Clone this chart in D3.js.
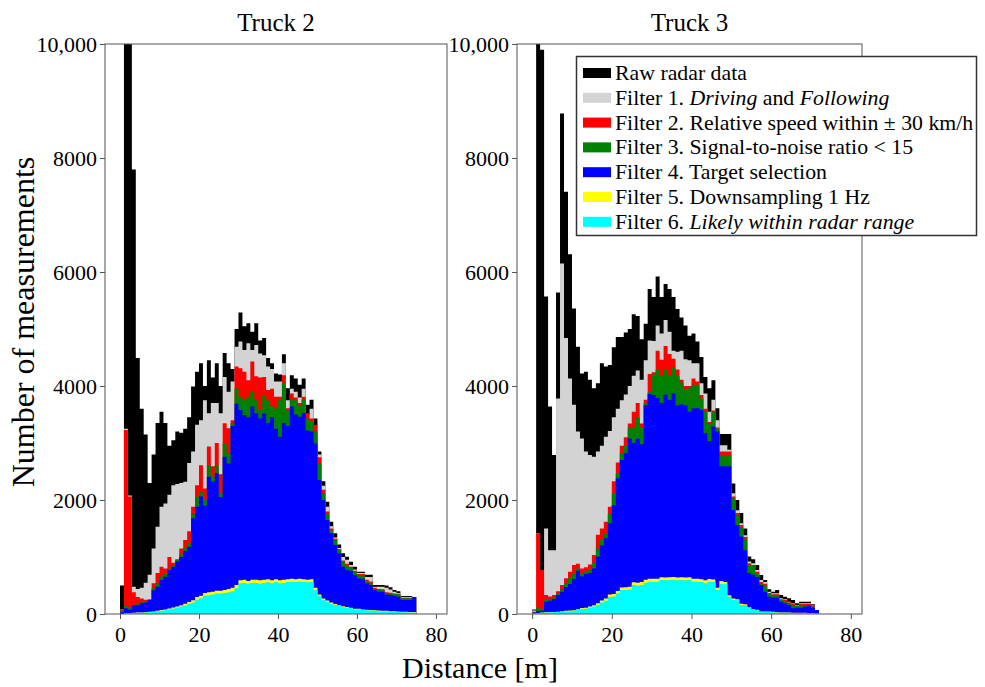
<!DOCTYPE html>
<html>
<head>
<meta charset="utf-8">
<script src="https://cdn.jsdelivr.net/npm/d3@7"></script>
<style>
  body { margin: 0; background: #fff; }
  svg { display: block; font-family: "Liberation Serif", "Times New Roman", serif; }
</style>
</head>
<body>
<div id="chart"></div>
<script>
// 1 m distance bins, counts per bin
const truck2Raw = [500,12000,12000,7800,4490,3600,3150,2300,2800,3350, 3550,3350,2950,3050,3200,3180,3250,3450,3990,4250, 4400,4000,4450,4150,4400,4000,4580,4400,4300,5000, 5290,5050,5100,4950,5100,4800,4840,4490,4400,4220, 4200,4555,3960,4190,4130,4020,4130,3670,3760,3430, 2850,2330,1970,1620,1415,1220,1065,1005,918,830, 740,740,690,690,509,509,509,500,470,420, 400,316,316,316,300];
const truck2Filter1 = [80,3250,2080,480,440,460,550,690,1150,1530, 1880,1940,2090,2260,2280,2300,2320,2650,2850,3320, 3400,3750,3520,3700,3700,3520,4160,3900,4080,4690, 4780,4630,4750,4630,4720,4570,4540,4340,4300,4080, 4080,4400,3750,3950,3900,3800,3950,3500,3600,3300, 2800,2250,1880,1540,1340,1160,1000,950,860,780, 720,720,650,650,480,480,480,460,430,390, 370,300,300,300,300];
const truck2Filter2 = [80,3230,2060,380,300,270,250,260,540,720, 830,800,1000,900,960,1150,1300,1450,1880,2260, 2610,2200,2940,2590,3000,2450,3345,3260,3400,4340, 4310,4250,4100,4430,4170,4150,4160,3930,3950,3810, 3810,4190,3610,3870,3800,3700,3810,3520,3430,3320, 2750,2180,1800,1500,1320,1140,940,880,830,760, 700,700,600,570,460,440,435,380,375,360, 355,285,285,285,300];
const truck2Filter3 = [60,150,120,160,170,200,210,230,450,540, 660,700,800,860,950,1050,1160,1250,1750,2060, 2150,2000,2610,2410,2610,2120,2990,2820,3345,3960, 3810,3750,3810,3900,3750,3580,3840,3750,3650,3610, 3750,4050,3580,3770,3750,3660,3760,3430,3370,3200, 2640,2120,1760,1470,1300,1130,920,860,820,740, 684,684,570,540,440,420,420,370,364,350, 345,275,275,275,300];
const truck2Filter4 = [30,100,80,155,155,187,200,245,415,480, 596,655,772,830,920,1000,1100,1180,1680,1880, 2060,1900,2410,2320,2470,2050,2760,2640,3300,3690, 3580,3490,3450,3640,3520,3430,3520,3350,3450,3250, 3110,3350,3300,3640,3500,3460,3520,3220,3200,2990, 2350,2000,1650,1420,1210,1065,830,770,760,684, 625,620,540,510,420,392,392,340,333,320, 303,245,245,245,300];
const truck2Filter5 = [0,15,15,20,25,25,30,40,45,55, 70,80,95,115,130,155,180,210,240,300, 320,370,380,390,410,410,420,440,460,510, 590,600,580,600,600,590,600,610,590,610, 590,600,610,620,610,620,610,600,610,460, 340,270,235,200,175,155,135,125,110,90, 90,80,75,70,65,60,55,55,50,50, 45,40,40,35,35];
const truck2Filter6 = [0,10,10,15,20,20,25,30,35,45, 55,65,80,95,110,130,150,180,200,250, 275,320,330,340,360,360,370,380,400,450, 540,545,530,550,545,535,545,555,540,560, 540,545,560,565,560,570,560,555,560,420, 316,250,216,180,158,140,120,110,100,80, 80,70,65,60,55,50,45,45,40,40, 35,30,30,25,25];

const truck3Raw = [80,12000,9900,5570,3640,2790,5640,8780,7410,6310, 5360,4690,4220,4250,4110,3960,4050,4400,4340,4370, 4680,4860,4860,4940,5000,5260,5230,4820,5090,5700, 5560,5920,5560,5790,5700,5560,5350,5200,5060,4880, 4920,4780,4510,4160,3960,4100,3610,3160,3160,3160, 2290,2000,1770,1500,1010,960,860,684,596,433, 392,420,333,304,275,246,187,216,216,216, 170,70,0];
const truck3Filter1 = [60,1415,770,1500,1120,1120,3780,6150,4840,4130, 3670,3200,3080,2850,2790,2760,2850,2950,3110,3210, 3450,3600,3750,3850,4000,4180,4270,4110,4450,4800, 4790,5060,4920,5160,4950,4620,4600,4620,4470,4450, 4400,4400,4050,3870,3550,3760,3400,2960,2960,2880, 2120,1820,1590,1380,920,890,770,596,560,392, 363,363,275,260,216,190,160,187,187,187, 150,70,0];
const truck3Filter2 = [40,1415,770,333,305,333,400,510,626,742, 860,880,800,820,870,1035,1390,1500,1620,1880, 2330,2660,2950,3100,3340,3550,3700,3340,3760,4210, 4240,4620,4460,4700,4560,4480,4290,4110,4000,4000, 4130,4080,3840,3600,3370,3570,3270,2850,2850,2850, 2060,1770,1560,1350,890,860,740,560,530,370, 345,345,260,245,205,180,150,175,175,175, 140,70,0];
const truck3Filter3 = [30,120,90,250,250,280,360,440,540,640, 700,800,720,750,780,900,1150,1300,1415,1760, 2120,2470,2820,2950,3260,3280,3450,3280,3700,3890, 4200,4290,4180,4290,4180,4330,4180,4060,3950,3960, 4020,4020,3780,3550,3340,3540,3260,2790,2790,2790, 2030,1740,1530,1320,870,840,720,540,500,350, 330,330,245,230,190,160,140,160,160,160, 130,70,0];
const truck3Filter4 = [20,50,60,216,234,263,333,390,474,526, 614,760,660,700,720,800,1005,1200,1330,1590, 1910,2380,2700,2820,3080,3000,3080,2980,3660,3860, 3840,3790,3700,3850,3760,3870,3660,3680,3660,3550, 3610,3610,3580,3170,3030,3290,3200,2590,2590,2590, 1825,1560,1360,1120,714,690,650,510,392,304, 290,290,216,187,158,101,110,110,130,150, 110,70,0];
const truck3Filter5 = [8,15,25,30,35,35,40,48,55,60, 65,85,105,110,130,155,190,235,270,340, 350,405,465,470,480,555,550,560,600,620, 620,620,645,640,645,650,640,645,640,645, 620,620,610,590,615,605,460,580,560,330, 270,260,180,170,120,85,75,45,45,45, 38,32,26,26,26,20,20,20,20,14, 14,8,0];
const truck3Filter6 = [5,10,20,25,30,30,35,40,45,50, 55,70,90,90,110,130,160,200,234,300, 305,363,420,420,430,509,500,509,550,567, 567,567,596,590,596,600,590,596,590,596, 567,567,560,540,567,560,420,530,520,304, 246,240,158,150,101,70,65,35,35,35, 30,25,20,20,20,15,15,15,15,10, 10,5,0];

const seriesColors = ["#000000", "#d3d3d3", "#ff0000", "#008000", "#0000ff", "#ffff00", "#00ffff"];
// legend labels as [text, italic] parts
const legendLabels = [
  [["Raw radar data", false]],
  [["Filter 1. ", false], ["Driving", true], [" and ", false], ["Following", true]],
  [["Filter 2. Relative speed within \u00b1 30 km/h", false]],
  [["Filter 3. Signal-to-noise ratio < 15", false]],
  [["Filter 4. Target selection", false]],
  [["Filter 5. Downsampling 1 Hz", false]],
  [["Filter 6. ", false], ["Likely within radar range", true]],
];
const xTicks = [0, 20, 40, 60, 80];
const yTicks = [0, 2000, 4000, 6000, 8000, 10000];

const panels = [
  {title: "Truck 2", left: 105, right: 447,
   series: [truck2Raw, truck2Filter1, truck2Filter2, truck2Filter3, truck2Filter4, truck2Filter5, truck2Filter6]},
  {title: "Truck 3", left: 517, right: 862,
   series: [truck3Raw, truck3Filter1, truck3Filter2, truck3Filter3, truck3Filter4, truck3Filter5, truck3Filter6]},
];

const width = 985, height = 687;
const plotTop = 44, plotBottom = 614;

const svg = d3.select("#chart").append("svg").attr("width", width).attr("height", height);
svg.append("rect").attr("width", width).attr("height", height).attr("fill", "#fff");

const y = d3.scaleLinear([0, 10000], [plotBottom, plotTop]);
const yFormat = (d) => (d >= 10000 ? d3.format(",")(d) : String(d));

panels.forEach((p, pi) => {
  const x = d3.scaleLinear([-3.8, 82.8], [p.left, p.right]);
  const g = svg.append("g");

  const clipId = `clip${pi}`;
  svg.append("clipPath").attr("id", clipId)
    .append("rect").attr("x", p.left).attr("y", plotTop).attr("width", p.right - p.left).attr("height", plotBottom - plotTop);

  // histograms drawn back to front as stepped areas
  const area = d3.area()
    .curve(d3.curveStepAfter)
    .x((d) => x(d[0]))
    .y0(y(0))
    .y1((d) => y(d[1]));

  const plot = g.append("g").attr("clip-path", `url(#${clipId})`);
  p.series.forEach((values, si) => {
    const pts = values.map((v, i) => [i, v]);
    pts.push([values.length, values[values.length - 1]]);
    plot.append("path")
      .attr("d", area(pts))
      .attr("fill", seriesColors[si]);
  });

  // frame
  g.append("rect")
    .attr("x", p.left).attr("y", plotTop)
    .attr("width", p.right - p.left).attr("height", plotBottom - plotTop)
    .attr("fill", "none").attr("stroke", "#555").attr("stroke-width", 1);

  const xAxis = g.append("g").attr("transform", `translate(0,${plotBottom})`)
    .call(d3.axisBottom(x).tickValues(xTicks).tickSize(5).tickPadding(7).tickSizeOuter(0));
  const yAxis = g.append("g").attr("transform", `translate(${p.left},0)`)
    .call(d3.axisLeft(y).tickValues(yTicks).tickFormat(yFormat).tickSize(5).tickPadding(3).tickSizeOuter(0));
  [xAxis, yAxis].forEach((a) => {
    a.select(".domain").remove();
    a.selectAll(".tick line").attr("stroke", "#555");
    a.selectAll("text").attr("font-family", "Liberation Serif, serif").attr("font-size", 22).attr("fill", "#000");
  });

  g.append("text")
    .attr("x", (p.left + p.right) / 2).attr("y", 31)
    .attr("text-anchor", "middle").attr("font-size", 25)
    .text(p.title);
});

svg.append("text")
  .attr("x", 480).attr("y", 678)
  .attr("text-anchor", "middle").attr("font-size", 30)
  .text("Distance [m]");

svg.append("text")
  .attr("transform", "translate(34,322) rotate(-90)")
  .attr("text-anchor", "middle").attr("font-size", 32)
  .text("Number of measurements");

// legend
const legend = svg.append("g");
legend.append("rect")
  .attr("x", 576.5).attr("y", 56.5).attr("width", 400).attr("height", 179)
  .attr("fill", "#fff").attr("stroke", "#333").attr("stroke-width", 1.5);

legendLabels.forEach((parts, i) => {
  const cy = 73 + i * 24.8;
  legend.append("rect")
    .attr("x", 583).attr("y", cy - 5).attr("width", 28).attr("height", 10)
    .attr("fill", seriesColors[i]);
  const t = legend.append("text").attr("x", 615).attr("y", cy + 7).attr("font-size", 21.8);
  parts.forEach(([s, it]) => {
    t.append("tspan").attr("font-style", it ? "italic" : "normal").text(s);
  });
});
</script>
</body>
</html>
